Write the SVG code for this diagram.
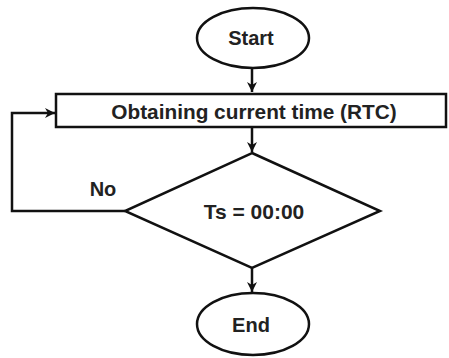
<svg xmlns="http://www.w3.org/2000/svg" width="449" height="358" viewBox="0 0 449 358">
<defs>
<marker id="arr" viewBox="0 0 10 10" refX="10" refY="5" markerWidth="10" markerHeight="10" markerUnits="userSpaceOnUse" orient="auto">
<path d="M0,0 L10,5 L0,10 L3,5 Z" fill="#111"/>
</marker>
<style>
.shape{fill:#fff;stroke:#111;stroke-width:2.5}
.line{fill:none;stroke:#111;stroke-width:2.5}
text{font-family:"Liberation Sans",Arial,sans-serif;font-weight:bold;fill:#222;text-anchor:middle}
</style>
</defs>
<rect width="449" height="358" fill="#fff"/>
<g id="connectors">
<line class="line" x1="252" y1="69" x2="252" y2="92" marker-end="url(#arr)"/>
<line class="line" x1="252" y1="128" x2="252" y2="152" marker-end="url(#arr)"/>
<line class="line" x1="252" y1="268" x2="252" y2="292" marker-end="url(#arr)"/>
<polyline class="line" points="125,211 12,211 12,113 55,113" marker-end="url(#arr)"/>
<text x="103" y="196" font-size="20">No</text>
</g>
<g id="start">
<ellipse class="shape" cx="253" cy="38" rx="56" ry="30"/>
<text x="251" y="45" font-size="20">Start</text>
</g>
<g id="obtain">
<rect class="shape" x="56" y="94" width="390" height="33"/>
<text x="254" y="119" font-size="20.8">Obtaining current time (RTC)</text>
</g>
<g id="decision">
<polygon class="shape" points="252,153 380,211 252,268 125,211"/>
<text x="254" y="219" font-size="21">Ts = 00:00</text>
</g>
<g id="end">
<ellipse class="shape" cx="253" cy="324" rx="56" ry="31"/>
<text x="251" y="332" font-size="20">End</text>
</g>
</svg>
